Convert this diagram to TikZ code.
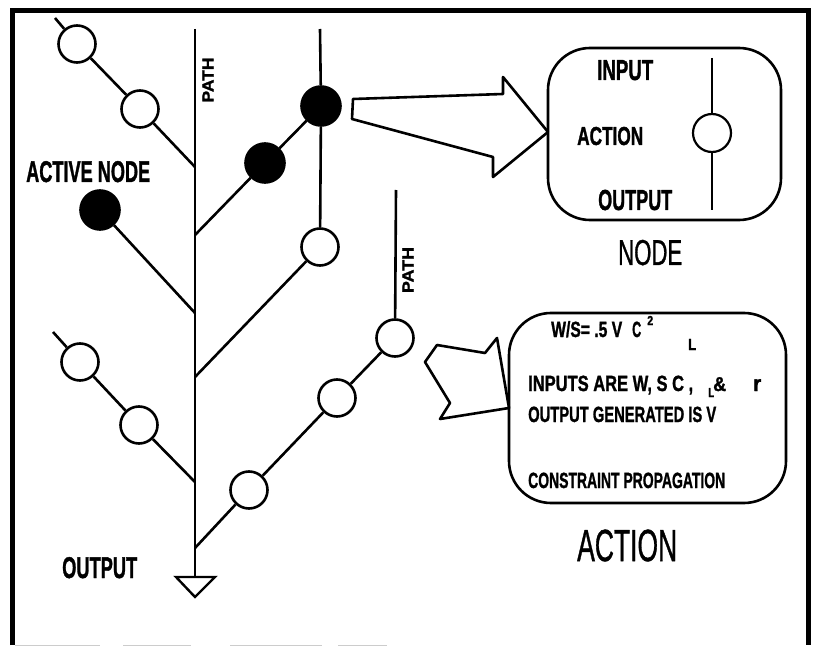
\documentclass[tikz,border=0pt]{standalone}
\usepackage{fontspec}
\setmainfont{Liberation Sans}[BoldFeatures={FakeBold=1.5}]
\newfontfamily\titlefont{Liberation Sans}[FakeBold=1.2]
\usepackage{graphicx}
% squeeze a text horizontally to a given width, keeping its height
\newcommand{\hfit}[2]{\resizebox{#1}{\height}{#2}}
\newcommand{\bsz}[1]{\fontsize{#1}{#1}\selectfont\bfseries}
\newcommand{\rsz}[1]{\titlefont\fontsize{#1}{#1}\selectfont}

\begin{document}
\begin{tikzpicture}[x=1pt,y=-1pt,
  wire/.style={line width=2.6pt},
  bub/.style={circle,draw,line width=2.6pt,minimum size=37pt,inner sep=0pt,fill=white},
  act/.style={bub,fill=black},
  frame/.style={line width=5pt,line join=miter},
  panel/.style={draw,line width=2.6pt,rounded corners=42pt,inner sep=0pt},
  lbl/.style={inner sep=0pt,anchor=base west},
  outline/.style={line width=2.6pt,line join=round,fill=white},
  scanedge/.style={gray!40,line width=1pt},
]
\useasboundingbox (0,0) rectangle (817,647);

% outer frame
\draw[frame] (12,645) -- (12,11) -- (808,11) -- (808,645);
\draw[scanedge] (15,645) -- (100,645);
\draw[scanedge] (123,645) -- (191,645);
\draw[scanedge] (230,645) -- (322,645);
\draw[scanedge] (338,645) -- (387,645);

% main path and its junctions
\coordinate (ttop) at (195,29);
\coordinate (tbot) at (195,577);
\coordinate (j1) at (195,167);
\coordinate (j2) at (195,235);
\coordinate (j3) at (195,313);
\coordinate (j4) at (195,377);
\coordinate (j5) at (195,482);
\coordinate (j6) at (195,548);
\draw[wire] (ttop) -- (tbot);

% output terminal
\coordinate (gl) at (176,577);
\coordinate (gr) at (215,577);
\coordinate (gtip) at (195,597);
\draw[line width=2.4pt,line join=miter] (gl) -- (gr) -- (gtip) -- cycle;

% upper left branch
\coordinate (s1) at (55,18);
\node[bub] (c1) at (77,44) {};
\node[bub] (c2) at (140,109) {};
\draw[wire] (s1) -- (c1) -- (c2) -- (j1);

% active node
\node[act, minimum size=39pt] (f0) at (100,210) {};
\draw[wire] (f0) -- (j3);

% upper right branch with active nodes
\node[act, minimum size=39pt] (f1) at (265,163) {};
\node[act, minimum size=39pt] (f2) at (321,106) {};
\node[bub] (c3) at (320,247) {};
\coordinate (s2) at (320,29);
\draw[wire] (j2) -- (f1) -- (f2);
\draw[wire] (s2) -- (f2) -- (c3) -- (j4);

% lower right branch
\coordinate (s3) at (396,190);
\node[bub] (c4) at (395,338) {};
\node[bub] (c5) at (337,398) {};
\node[bub] (c6) at (249,490) {};
\draw[wire] (s3) -- (c4) -- (c5) -- (c6) -- (j6);

% lower left branch
\coordinate (s4) at (53,332);
\node[bub] (c7) at (80,362) {};
\node[bub] (c8) at (139,425) {};
\draw[wire] (s4) -- (c7) -- (c8) -- (j5);

% path labels
\node[inner sep=0pt,rotate=90] (path1) at (208,80) {\bsz{16}\hfit{45pt}{PATH}};
\node[inner sep=0pt,rotate=90] (path2) at (408,270) {\bsz{16}\hfit{46pt}{PATH}};

% side labels
\node[lbl] (activelbl) at (26,182) {\bsz{30}\hfit{124pt}{ACTIVE NODE}};
\node[lbl] (outlbl) at (62,578) {\bsz{30}\hfit{75pt}{OUTPUT}};

% node detail panel
\node[panel, minimum width=233pt, minimum height=172pt] (nodebox) at (664.5,134) {};
\draw[outline] (353,99) -- (503,94) -- (503,77) -- (548,132) -- (493,177) -- (493,157) -- (352,119) -- cycle;
\node[lbl] (ninput) at (597,80) {\bsz{29}\hfit{56pt}{INPUT}};
\node[lbl] (naction) at (577,145) {\bsz{26}\hfit{66pt}{ACTION}};
\node[lbl] (noutput) at (598,210) {\bsz{29}\hfit{74pt}{OUTPUT}};
\node[bub, line width=2.2pt, minimum size=38pt] (nc) at (712,133) {};
\coordinate (nin) at (712,58);
\coordinate (nout) at (712,210);
\draw[line width=2.2pt] (nin) -- (nc) -- (nout);
\node[lbl] (nodetitle) at (618,265) {\rsz{36}\hfit{64pt}{NODE}};

% action detail panel
\node[panel, minimum width=277pt, minimum height=190pt] (actbox) at (647.5,408) {};
\draw[outline] (437,345) -- (485,353) -- (497,338) -- (509,408) -- (440,419) -- (450,403) -- (425,362) -- cycle;
\node[lbl] (eq1) at (551,337) {\bsz{22}\hfit{71pt}{W/S= .5 V}};
\node[lbl] (eq2) at (632,337) {\bsz{22}\hfit{9pt}{C}};
\node[lbl] (eq3) at (647,325) {\bsz{13}\hfit{6pt}{2}};
\node[lbl] (eq4) at (688,350) {\bsz{16}\hfit{8pt}{L}};
\node[lbl] (in1) at (528,391) {\bsz{22}\hfit{165pt}{INPUTS ARE W, S C ,}};
\node[lbl] (in2) at (708,397) {\bsz{13}\hfit{6pt}{L}};
\node[lbl] (in3) at (713,391) {\bsz{20}\hfit{13pt}{\&}};
\node[lbl] (in4) at (753,391) {\bsz{22}\hfit{8pt}{r}};
\node[lbl] (out1) at (528,422) {\bsz{22}\hfit{188pt}{OUTPUT GENERATED IS V}};
\node[lbl] (cp) at (528,488) {\bsz{22}\hfit{197pt}{CONSTRAINT PROPAGATION}};
\node[lbl] (acttitle) at (577,561) {\rsz{45}\hfit{100pt}{ACTION}};

\end{tikzpicture}
\end{document}
